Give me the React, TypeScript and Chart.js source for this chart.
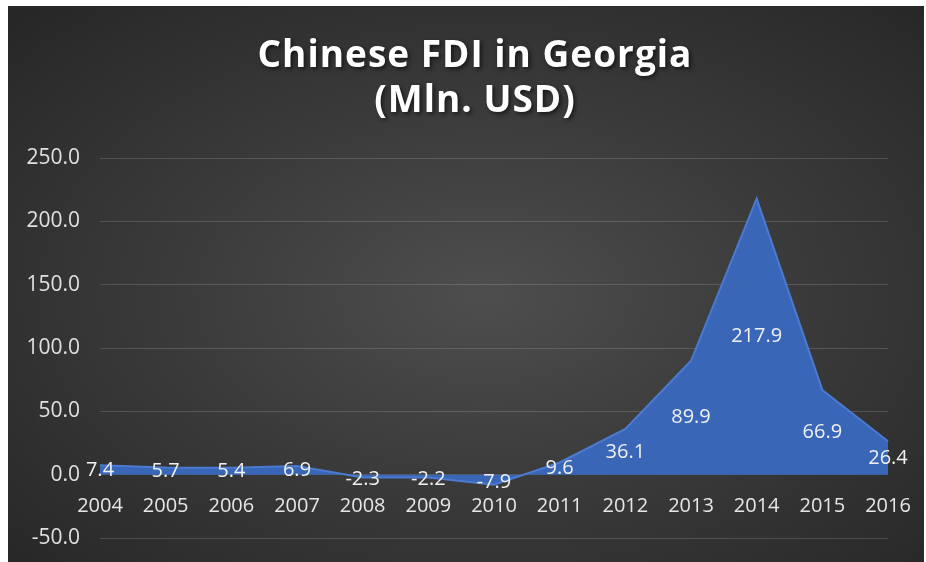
import React, { useEffect, useRef } from "react";
import { Chart, registerables } from "chart.js";

Chart.register(...registerables);

const years = ["2004", "2005", "2006", "2007", "2008", "2009", "2010", "2011", "2012", "2013", "2014", "2015", "2016"];
const fdi = [7.4, 5.7, 5.4, 6.9, -2.3, -2.2, -7.9, 9.6, 36.1, 89.9, 217.9, 66.9, 26.4];
const titleLines = ["Chinese FDI in Georgia", "(Mln. USD)"];
const yMin = -50;
const yMax = 250;
const yStep = 50;

const FONT = "'Open Sans', 'DejaVu Sans', sans-serif";

const midLabels = {
  id: "midLabels",
  afterDatasetsDraw(chart: any) {
    const ctx = chart.ctx;
    const meta = chart.getDatasetMeta(0);
    const ys = chart.scales.y;
    ctx.save();
    ctx.font = `20px ${FONT}`;
    ctx.fillStyle = "#f0f0f0";
    ctx.textAlign = "center";
    ctx.textBaseline = "middle";
    meta.data.forEach((pt: any, i: number) => {
      const v = fdi[i];
      const y = ys.getPixelForValue(v / 2);
      ctx.fillText(v.toFixed(1), pt.x, y + (v < 0 ? 3 : 0));
    });
    ctx.restore();
  },
};

const titleDraw = {
  id: "titleDraw",
  afterDraw(chart: any) {
    const ctx = chart.ctx;
    ctx.save();
    ctx.font = `bold 37px ${FONT}`;
    ctx.fillStyle = "#ffffff";
    ctx.textAlign = "center";
    ctx.textBaseline = "alphabetic";
    (ctx as any).letterSpacing = "1px";
    ctx.shadowColor = "rgba(0,0,0,0.6)";
    ctx.shadowBlur = 4;
    ctx.shadowOffsetX = 2;
    ctx.shadowOffsetY = 2;
    const cx = chart.width / 2 + 9;
    ctx.fillText(titleLines[0], cx, 61);
    ctx.fillText(titleLines[1], cx, 106);
    ctx.restore();
  },
};

const zeroPad = (scale: any) => {
  scale.paddingLeft = 0;
  scale.paddingRight = 0;
  scale.paddingTop = 0;
  scale.paddingBottom = 0;
};

export default function App() {
  const ref = useRef<HTMLCanvasElement | null>(null);
  useEffect(() => {
    if (!ref.current) return;
    const chart = new Chart(ref.current, {
      type: "line",
      data: {
        labels: years,
        datasets: [
          {
            data: fdi,
            fill: "origin",
            backgroundColor: "#3a66b8",
            borderColor: "#4a7bd0",
            borderWidth: 2,
            pointRadius: 0,
            tension: 0,
          },
        ],
      },
      options: {
        animation: false,
        responsive: false,
        layout: { padding: { top: 152, right: 36, bottom: 24, left: 0 } },
        plugins: {
          legend: { display: false },
          title: { display: false },
          tooltip: { enabled: false },
        },
        scales: {
          x: {
            type: "category",
            offset: false,
            position: { y: 0 },
            afterFit(scale: any) {
              zeroPad(scale);
              scale.height = 0;
            },
            grid: { display: false, drawTicks: false },
            border: { display: false },
            ticks: {
              color: "#e6e6e6",
              font: { family: FONT, size: 20 },
              padding: 20,
              maxRotation: 0,
              autoSkip: false,
            },
          },
          y: {
            min: yMin,
            max: yMax,
            afterFit(scale: any) {
              zeroPad(scale);
              scale.width = 92;
            },
            ticks: {
              stepSize: yStep,
              color: "#e0e0e0",
              font: { family: FONT, size: 21 },
              padding: 20,
              callback: (v: any) => Number(v).toFixed(1),
            },
            grid: { color: "rgba(255,255,255,0.15)", drawTicks: false, lineWidth: 1 },
            border: { display: false },
          },
        },
      },
      plugins: [midLabels, titleDraw],
    });
    return () => chart.destroy();
  }, []);
  return (
    <div
      style={{
        position: "absolute",
        left: 8,
        top: 6,
        width: 916,
        height: 556,
        background: "radial-gradient(ellipse at 52% 52%, #4e4e4e 0%, #3b3b3b 45%, #262626 100%)",
      }}
    >
      <canvas ref={ref} width={916} height={556} style={{ display: "block" }} />
    </div>
  );
}
